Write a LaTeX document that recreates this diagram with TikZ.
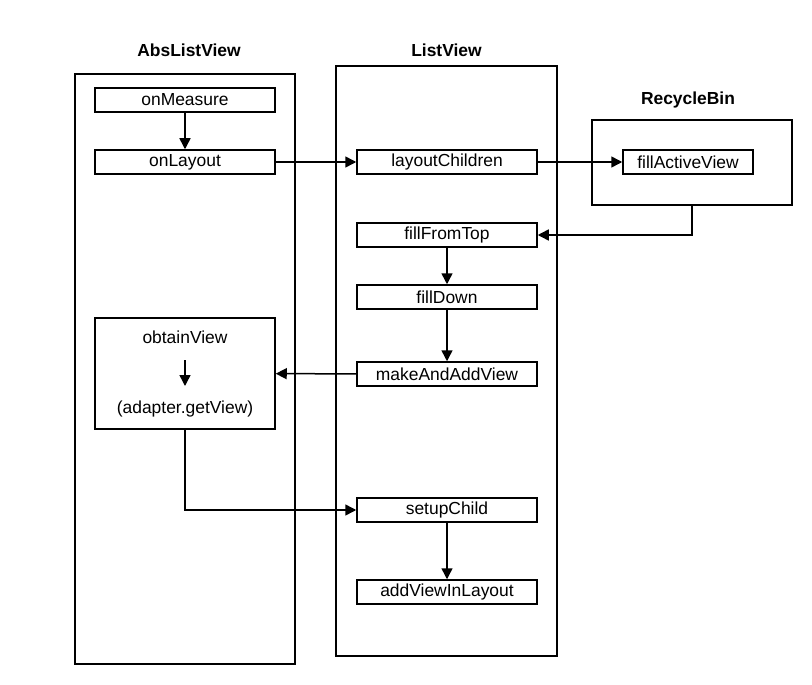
\documentclass[tikz,border=0pt]{standalone}
\usepackage{fontspec}
\setmainfont{Liberation Sans}
\usetikzlibrary{arrows.meta}

\begin{document}
\begin{tikzpicture}[x=1bp, y=-1bp, line width=1.5bp,
        box/.style={draw, minimum width=180bp, minimum height=24bp, inner sep=0pt, font=\fontsize{17.5}{20}\selectfont},
        frame/.style={draw, inner sep=0pt},
        title/.style={font=\bfseries\fontsize{17.5}{20}\selectfont},
        link/.style={-{Triangle[length=11bp,width=11bp]}}]
            \useasboundingbox (0,0) rectangle (812,685);
            % containers
            \node[frame, minimum width=220bp, minimum height=590bp] (abs) at (185,369) {};
            \node[frame, minimum width=221bp, minimum height=590bp] (lv) at (446.5,361) {};
            \node[frame, minimum width=200bp, minimum height=85bp] (bin) at (692,162.5) {};
            \node[title] (abst) at (189,50) {AbsListView};
            \node[title] (lvt) at (446.5,50) {ListView};
            \node[title] (bint) at (688,100) {RecycleBin};
            % AbsListView
            \node[box] (measure) at (185,100) {onMeasure};
            \node[box] (layout) at (185,162) {onLayout};
            \node[box, minimum height=111bp] (obtain) at (185,373.5) {};
            \node[font=\fontsize{17.5}{20}\selectfont] (obt) at (185,337) {obtainView};
            \node[font=\fontsize{17.5}{20}\selectfont] (getv) at (185,409) {(adapter.getView)};
            \coordinate (obta) at (185,360);
            \coordinate (obtb) at (185,386);
            % ListView
            \node[box] (children) at (447,162) {layoutChildren};
            \node[box] (top) at (447,235) {fillFromTop};
            \node[box] (down) at (447,297) {fillDown};
            \node[box] (make) at (447,374) {makeAndAddView};
            \node[box] (setup) at (447,510) {setupChild};
            \node[box] (add) at (447,592) {addViewInLayout};
            % RecycleBin
            \node[box, minimum width=130bp] (active) at (688,162) {fillActiveView};
            % arrows
            \draw[link] (measure) -- (layout);
            \draw[link] (layout) -- (children);
            \draw[link] (children) -- (active);
            \draw[link] (bin.south) |- (top.east);
            \draw[link] (top) -- (down);
            \draw[link] (down) -- (make);
            \draw[link] (make) -- (obtain);
            \draw[link] (obta) -- (obtb);
            \draw[link] (obtain.south) |- (setup.west);
            \draw[link] (setup) -- (add);
\end{tikzpicture}
\end{document}
